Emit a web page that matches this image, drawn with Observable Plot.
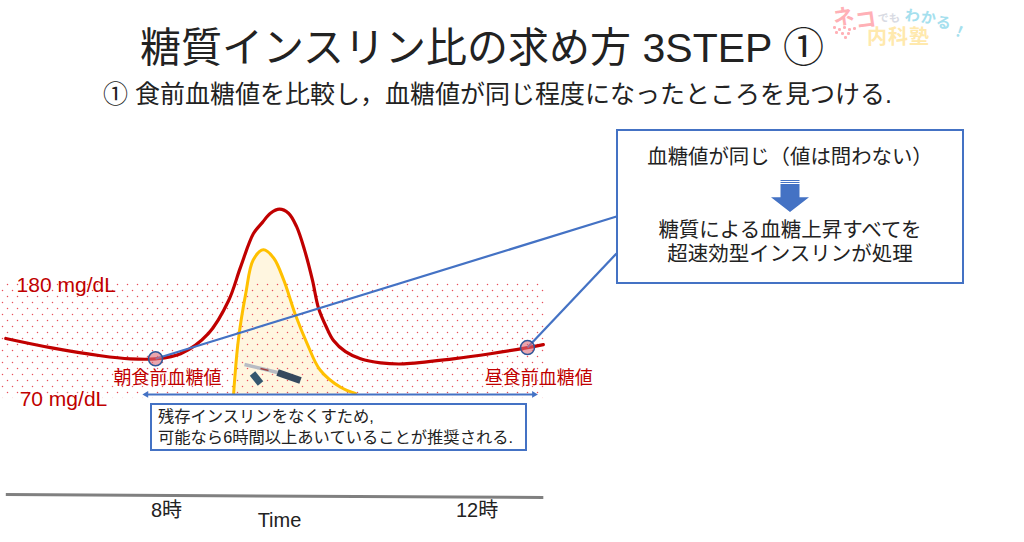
<!DOCTYPE html>
<html lang="ja">
<head>
<meta charset="utf-8">
<script src="https://cdn.jsdelivr.net/npm/d3@7"></script>
<script src="https://cdn.jsdelivr.net/npm/@observablehq/plot@0.6"></script>
<style>
html,body{margin:0;padding:0;background:#fff;overflow:hidden}
#page{position:relative;width:1024px;height:542px;font-family:"Liberation Sans","Noto Sans CJK JP",sans-serif;color:#222}
#page svg{position:absolute;left:0;top:0;display:block}
.abs{position:absolute;white-space:nowrap;line-height:1}
#title{left:0;width:964px;top:28px;text-align:center;font-size:41px;font-weight:400;margin:0}
#sub{left:103px;top:82px;font-size:25px}
#callout{left:616px;top:129px;width:344px;height:151px;border:2.5px solid #4472c4;background:#fff}
#callout div{position:absolute;left:0;width:100%;text-align:center}
#c1{font-size:20.4px;line-height:1;top:16px;left:0!important}
#c2{font-size:20.5px;line-height:24px;top:87px}
#down{position:absolute;left:153px;top:48px;width:38px;height:33px;
 background:linear-gradient(#fff 0 1px,#4472c4 1px 2px,#fff 2px 3px,#4472c4 3px 4px,#fff 4px 5px,#4472c4 5px);
 clip-path:polygon(25% 0,75% 0,75% 55%,100% 55%,50% 100%,0 55%,25% 55%)}
#note{left:150px;top:403px;width:373px;height:44px;border:2px solid #4472c4;background:#fff;font-size:16.3px}
#note div{position:absolute;left:6px;line-height:1}
.logo{position:absolute;line-height:1;font-weight:700;white-space:nowrap}
.sp{position:absolute;width:2.5px;height:2.5px;border-radius:50%;background:#ffb0b6}
</style>
</head>
<body>
<div id="page">
<h1 id="title" class="abs"></h1>
<div id="sub" class="abs"></div>
<div id="callout" class="abs"><div id="c1"></div><span id="down"></span><div id="c2"></div></div>
<div id="note" class="abs"><div id="n1" style="top:3px"></div><div id="n2" style="top:24px"></div></div>
</div>
<script>
const titleText = "糖質インスリン比の求め方 3STEP ①";
const subText = "① 食前血糖値を比較し，血糖値が同じ程度になったところを見つける.";
const calloutLines = ["血糖値が同じ（値は問わない）", "糖質による血糖上昇すべてを", "超速効型インスリンが処理"];
const noteLines = ["残存インスリンをなくすため,", "可能なら6時間以上あいていることが推奨される."];

const hours = [6.39,6.87,7.41,7.73,8,8.27,8.57,8.785,8.914,9.053,9.15,9.236,9.333,9.43,9.516,9.602,9.688,9.752,9.838,9.914,10.043,10.204,10.42,10.67,11.2,11.6,12,12.17];
const glucose = [127,118,110,107,107,112,132,164,197,230,241,250,254,250,237,214,184,157,138,125,114,107,103,102,107,112,118,121];
const insulinHours = [8.84,8.89,8.97,9.05,9.16,9.27,9.38,9.505,9.63,9.77,9.99,10.15];
const insulinLevel = [73,125,171,204,214,206,184,150,122,96,79,73];
const band = {x1:6.333,x2:12.19,y1:68,y2:182};
const bandLabels = ["180 mg/dL","70 mg/dL"];
const bandLabelX = [7.04,7.01];
const bandLabelY = [179,67];
const mealLabels = ["朝食前血糖値","昼食前血糖値"];
const mealLabelX = [8.13,12.12];
const mealLabelY = [88,88];
const mealX = [8,12];
const mealY = [107,118];
const calloutX = 12.957;
const calloutY = [246.8,210.5];
const spanX = [7.9,12.07];
const spanHeadX = [7.9,12.07];
const spanHeadRotate = [-90,90];
const spanY = 72;
const axisX = [6.39,12.17];
const axisY = [-26.3,-29.2];
const tickLabels = ["8時","12時"];
const tickX = [8.118,11.457];
const tickY = [-42,-42];
const penX1 = [8.957,9.312,9.043,9.129];
const penX2 = [9.312,9.559,9.129,9.215];
const penY1 = [101.4,93.6,92.6,97.5];
const penY2 = [93.6,85.7,82.8,95.5];
const penColor = ["#b8bcc4","#34495e","#34566e","#a04040"];
const penWidth = [3.5,7,7,1.5];

const idx = a => a.map((_,i)=>i);
const red = "#c00000", blue = "#4472c4", font = '"Liberation Sans","Noto Sans CJK JP",sans-serif';
document.getElementById("title").textContent = titleText;
document.getElementById("sub").textContent = subText;
document.getElementById("c1").textContent = calloutLines[0];
document.getElementById("c2").innerHTML = calloutLines[1] + "<br>" + calloutLines[2];
["n1","n2"].forEach((id,i)=>document.getElementById(id).textContent = noteLines[i]);

const plot = Plot.plot({
  width:1024, height:542, margin:0,
  x:{domain:[6.333,17.344],range:[0,1024],axis:null},
  y:{domain:[458.9,-73.4],range:[0,542],axis:null},
  style:{background:"transparent",fontFamily:font},
  marks:[
    Plot.areaY(idx(insulinHours),{x:i=>insulinHours[i],y1:72,y2:i=>insulinLevel[i],fill:"#fff6e0",curve:"catmull-rom"}),
    Plot.rect([band],{x1:"x1",x2:"x2",y1:"y1",y2:"y2",fill:"url(#dots)"}),
    Plot.lineY(idx(insulinHours),{x:i=>insulinHours[i],y:i=>insulinLevel[i],stroke:"#ffc000",strokeWidth:3,curve:"catmull-rom"}),
    Plot.line(idx(hours),{x:i=>hours[i],y:i=>glucose[i],stroke:red,strokeWidth:3.2,curve:"catmull-rom"}),
    Plot.link(idx(mealX),{x1:i=>mealX[i],y1:i=>mealY[i],x2:calloutX,y2:i=>calloutY[i],stroke:blue,strokeWidth:2.2}),
    Plot.dot(idx(mealX),{x:i=>mealX[i],y:i=>mealY[i],r:7,fill:"#dc6b78",fillOpacity:0.6,stroke:"#2f5597",strokeWidth:1.5}),
    Plot.link([0],{x1:spanX[0],x2:spanX[1],y1:spanY,y2:spanY,stroke:blue,strokeWidth:2}),
    Plot.dot(idx(spanHeadX),{x:i=>spanHeadX[i],y:spanY,symbol:"triangle2",r:3.2,rotate:i=>spanHeadRotate[i],fill:blue}),
    Plot.link(idx(penX1),{x1:i=>penX1[i],x2:i=>penX2[i],y1:i=>penY1[i],y2:i=>penY2[i],stroke:i=>penColor[i],strokeWidth:i=>penWidth[i]}),
    Plot.text(bandLabels,{x:(d,i)=>bandLabelX[i],y:(d,i)=>bandLabelY[i],text:d=>d,fill:red,fontSize:21}),
    Plot.text(mealLabels,{x:(d,i)=>mealLabelX[i],y:(d,i)=>mealLabelY[i],text:d=>d,fill:red,fontSize:18}),
    Plot.link([0],{x1:axisX[0],x2:axisX[1],y1:axisY[0],y2:axisY[1],stroke:"#808080",strokeWidth:3}),
    Plot.text(tickLabels,{x:(d,i)=>tickX[i],y:(d,i)=>tickY[i],text:d=>d,fill:"#222",fontSize:20}),
    Plot.text(["Time"],{x:9.333,y:-51.5,text:d=>d,fill:"#222",fontSize:20})
  ]
});
const pat = d3.select(plot).insert("defs",":first-child").append("pattern").attr("id","dots")
  .attr("patternUnits","userSpaceOnUse").attr("width",10).attr("height",12);
[[2.5,2.5],[7.5,8.5]].forEach(([cx,cy])=>pat.append("circle").attr("cx",cx).attr("cy",cy).attr("r",0.75).attr("fill","#e8505c"));
const page = document.getElementById("page");
page.insertBefore(plot,page.firstChild);

const logoParts = [
  ["ネ",833,6,21,"#ffb0b6",-8],["コ",855,9,21,"#ffb0b6",-8],
  ["で",878,13,11,"#d9dbe3",-8],["も",889,13,11,"#d9dbe3",-8],
  ["わ",905,8,15,"#a5e0ee",8],["か",921,10,15,"#a5e0ee",8],["る",936,15,15,"#a5e0ee",10],["！",952,24,15,"#a5e0ee",22],
  ["内",867,27,20,"#ffe9ad",0],["科",888,27,20,"#ffe9ad",0],["塾",909,27,20,"#ffe9ad",0]
];
logoParts.forEach(([t,x,y,s,c,r])=>{
  const el=document.createElement("span");
  el.className="logo";el.textContent=t;
  el.style.cssText=`left:${x}px;top:${y}px;font-size:${s}px;color:${c};transform:rotate(${r}deg)`;
  page.appendChild(el);
});
const logoSpecks = [[833,26],[838,28],[843,26],[848,28],[853,27],[835,31],[841,32],[847,32],[844,36]];
logoSpecks.forEach(([x,y])=>{
  const el=document.createElement("span");
  el.className="sp";el.style.left=x+"px";el.style.top=y+"px";
  page.appendChild(el);
});
</script>
</body>
</html>
